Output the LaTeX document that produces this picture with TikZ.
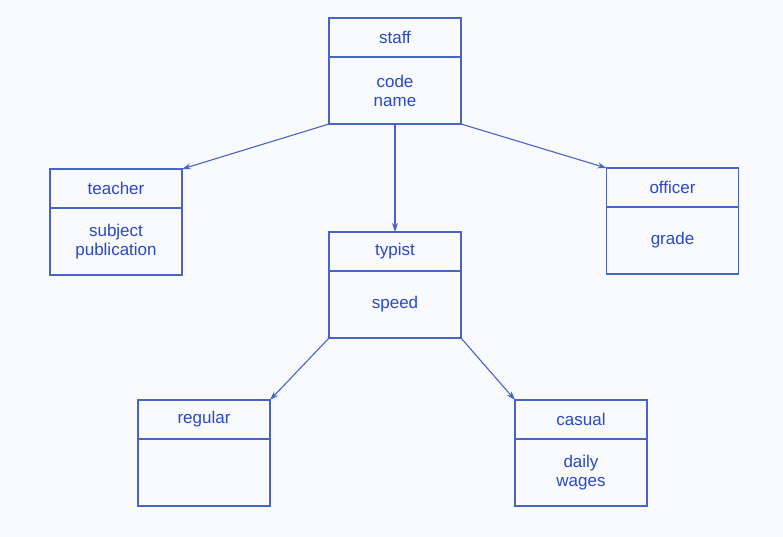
\documentclass[tikz,border=0pt]{standalone}
\usepackage{fontspec}
\setmainfont{Liberation Sans}
\usetikzlibrary{positioning,arrows.meta}
\definecolor{boxblue}{RGB}{72,100,200}
\definecolor{textblue}{RGB}{40,72,205}
\definecolor{paper}{RGB}{249,250,253}
\tikzset{ClassHead/.style={%
    shape=rectangle,%
    draw=boxblue,%
    line width=1.2pt,%
    minimum width=132pt,%
    minimum height=39pt,%
    inner sep=0pt,%
    outer sep=0pt,%
    text=textblue,%
    font=\fontsize{17}{19}\selectfont,%
}}
\tikzset{ClassBody/.style={%
    ClassHead,%
    minimum height=67pt,%
    align=center,%
}}
\tikzset{InheritEdge/.style={%
    -{Stealth[length=9pt,width=6pt]},%
    draw=boxblue,%
    line width=1.1pt,%
}}

\begin{document}
\begin{tikzpicture}[x=1pt,y=-1pt]
    \fill[paper] (0,0) rectangle (783,537);
    \useasboundingbox (0,0) rectangle (783,537);

    \node[ClassHead] (staff) at (395,37.5) {staff};
    \node[ClassBody, below=0pt of staff] (staffBody) {code\\name};
    \node[ClassHead] (teacher) at (116,188.5) {teacher};
    \node[ClassBody, below=0pt of teacher] (teacherBody) {subject\\publication};
    \node[ClassHead] (typist) at (395,251.5) {typist};
    \node[ClassBody, below=0pt of typist] (typistBody) {speed};
    \node[ClassHead] (officer) at (672.5,187.5) {officer};
    \node[ClassBody, below=0pt of officer] (officerBody) {grade};
    \node[ClassHead] (regular) at (204,419.5) {regular};
    \node[ClassBody, below=0pt of regular] (regularBody) {};
    \node[ClassHead] (casual) at (581,419.5) {casual};
    \node[ClassBody, below=0pt of casual] (casualBody) {daily\\wages};

    \path (staffBody.south west) edge[InheritEdge] (teacher.north east);
    \path (staffBody.south) edge[InheritEdge] (typist.north);
    \path (staffBody.south east) edge[InheritEdge] (officer.north west);
    \path (typistBody.south west) edge[InheritEdge] (regular.north east);
    \path (typistBody.south east) edge[InheritEdge] (casual.north west);
\end{tikzpicture}
\end{document}
